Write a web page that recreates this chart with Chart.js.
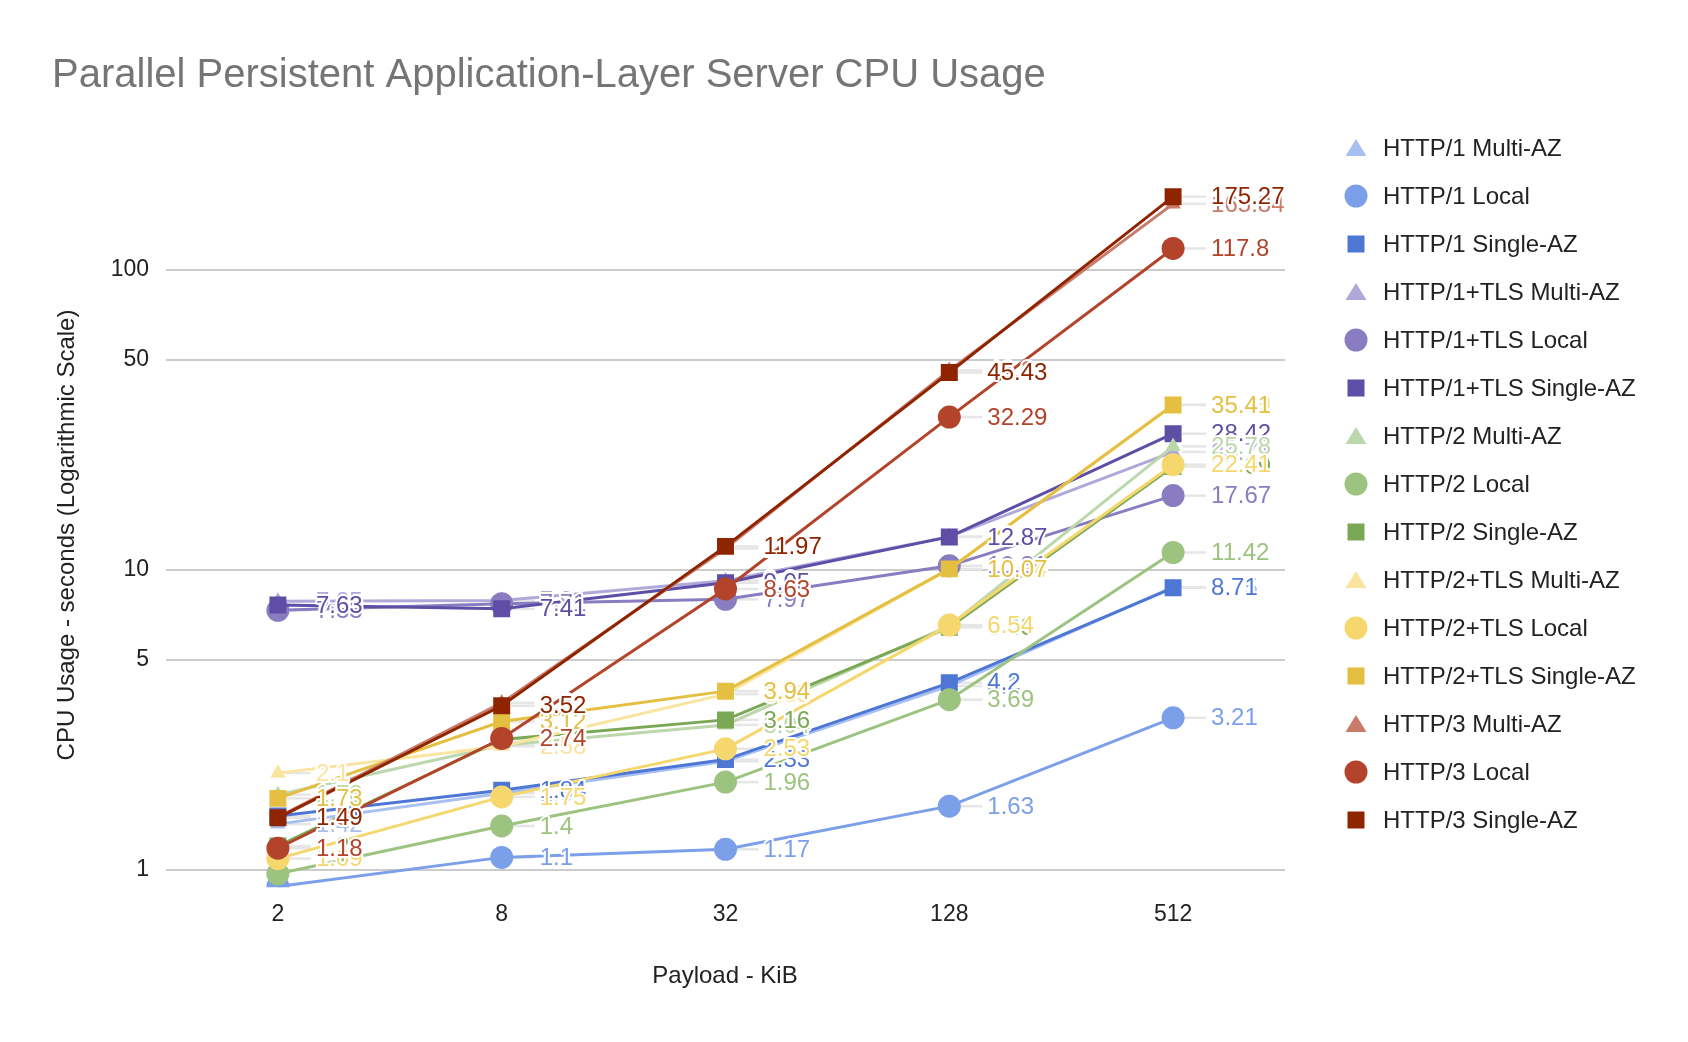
<!DOCTYPE html>
<html>
<head>
<meta charset="utf-8">
<script src="https://cdn.jsdelivr.net/npm/chart.js@4.4.1/dist/chart.umd.min.js"></script>
<style>
html,body{margin:0;padding:0;background:#fff;}
#wrap{width:1688px;height:1042px;position:relative;}
</style>
</head>
<body>
<div id="wrap"><canvas id="c" width="1688" height="1042"></canvas></div>
<script>
const categories = ['2', '8', '32', '128', '512'];
const yTickValues = [1, 5, 10, 50, 100];

const seriesNames = [
  'HTTP/1 Multi-AZ', 'HTTP/1 Local', 'HTTP/1 Single-AZ',
  'HTTP/1+TLS Multi-AZ', 'HTTP/1+TLS Local', 'HTTP/1+TLS Single-AZ',
  'HTTP/2 Multi-AZ', 'HTTP/2 Local', 'HTTP/2 Single-AZ',
  'HTTP/2+TLS Multi-AZ', 'HTTP/2+TLS Local', 'HTTP/2+TLS Single-AZ',
  'HTTP/3 Multi-AZ', 'HTTP/3 Local', 'HTTP/3 Single-AZ'
];

const http1Multi      = [1.42, 1.8, 2.3, 4.1, 8.75];
const http1Local      = [0.88, 1.1, 1.17, 1.63, 3.21];
const http1Single     = [1.51, 1.84, 2.33, 4.2, 8.71];
const http1TlsMulti   = [7.85, 7.9, 9.2, 12.9, 24.71];
const http1TlsLocal   = [7.33, 7.71, 7.97, 10.31, 17.67];
const http1TlsSingle  = [7.63, 7.41, 9.05, 12.87, 28.42];
const http2Multi      = [1.78, 2.6, 3.04, 6.5, 25.78];
const http2Local      = [0.97, 1.4, 1.96, 3.69, 11.42];
const http2Single     = [1.2, 2.72, 3.16, 6.43, 22.09];
const http2TlsMulti   = [2.1, 2.58, 3.85, 10.04, 35.49];
const http2TlsLocal   = [1.09, 1.75, 2.53, 6.54, 22.41];
const http2TlsSingle  = [1.73, 3.12, 3.94, 10.07, 35.41];
const http3Multi      = [1.5, 3.6, 11.77, 46.2, 165.84];
const http3Local      = [1.18, 2.74, 8.63, 32.29, 117.8];
const http3Single     = [1.49, 3.52, 11.97, 45.43, 175.27];

const seriesValues = [
  http1Multi, http1Local, http1Single,
  http1TlsMulti, http1TlsLocal, http1TlsSingle,
  http2Multi, http2Local, http2Single,
  http2TlsMulti, http2TlsLocal, http2TlsSingle,
  http3Multi, http3Local, http3Single
];

const seriesColors = [
  '#a8bff2', '#7b9fe8', '#4e77d5',
  '#b1a8da', '#8a7cc1', '#5f4ea6',
  '#bcd7ac', '#9dc380', '#7aa855',
  '#f9e4a0', '#f5d76d', '#e4bf42',
  '#c97a69', '#b3442b', '#8f2401'
];
const seriesShapes = ['triangle', 'circle', 'rect'];

const FONT = '"Liberation Sans", Arial, sans-serif';
const Y_MIN = 0.875, Y_MAX = 250;

const datasets = seriesNames.map((name, i) => {
  const shape = seriesShapes[i % 3];
  const r = shape === 'triangle' ? 9 : (shape === 'circle' ? 11.5 : 12);
  return {
    label: name,
    data: seriesValues[i],
    borderColor: seriesColors[i],
    backgroundColor: seriesColors[i],
    pointBackgroundColor: seriesColors[i],
    pointBorderColor: seriesColors[i],
    pointBorderWidth: 0,
    borderWidth: 3,
    pointStyle: shape,
    pointRadius: r,
    pointHoverRadius: r,
    tension: 0,
    order: seriesNames.length - i,
    clip: { left: false, right: false, top: false, bottom: 0 }
  };
});

const leaderPlugin = {
  id: 'leaders',
  beforeDatasetsDraw(chart) {
    const ctx = chart.ctx;
    ctx.save();
    ctx.strokeStyle = '#e6e6e6';
    ctx.lineWidth = 2.5;
    chart.data.datasets.forEach((ds, i) => {
      const meta = chart.getDatasetMeta(i);
      meta.data.forEach((pt, j) => {
        if (ds.data[j] < 1) return;
        ctx.beginPath();
        ctx.moveTo(pt.x + 9, pt.y);
        ctx.lineTo(pt.x + 33, pt.y);
        ctx.stroke();
      });
    });
    ctx.restore();
  },
  afterDatasetsDraw(chart) {
    const ctx = chart.ctx;
    ctx.save();
    ctx.font = '24px ' + FONT;
    ctx.textAlign = 'left';
    ctx.textBaseline = 'middle';
    ctx.lineJoin = 'round';
    chart.data.datasets.forEach((ds, i) => {
      const meta = chart.getDatasetMeta(i);
      meta.data.forEach((pt, j) => {
        if (ds.data[j] < 1) return;
        const txt = String(ds.data[j]);
        ctx.strokeStyle = '#ffffff';
        ctx.lineWidth = 4;
        ctx.strokeText(txt, pt.x + 38, pt.y + 1);
        ctx.fillStyle = ds.borderColor;
        ctx.fillText(txt, pt.x + 38, pt.y + 1);
      });
    });
    ctx.restore();
  }
};

const decorPlugin = {
  id: 'decor',
  afterDraw(chart) {
    const ctx = chart.ctx;
    ctx.save();
    ctx.fillStyle = '#757575';
    ctx.font = '40px ' + FONT;
    ctx.textAlign = 'left';
    ctx.textBaseline = 'middle';
    ctx.fillText('Parallel Persistent Application-Layer Server CPU Usage', 52, 76);
    ctx.fillStyle = '#222222';
    ctx.font = '24px ' + FONT;
    ctx.textAlign = 'center';
    ctx.fillText('Payload - KiB', 725, 976);
    ctx.save();
    ctx.translate(67, 535);
    ctx.rotate(-Math.PI / 2);
    ctx.fillText('CPU Usage - seconds (Logarithmic Scale)', 0, 0);
    ctx.restore();
    const lx = 1356, tx = 1383, ly0 = 148, step = 48;
    chart.data.datasets.forEach((ds, i) => {
      const y = ly0 + i * step;
      ctx.fillStyle = ds.borderColor;
      const shape = ds.pointStyle;
      if (shape === 'triangle') {
        ctx.beginPath();
        ctx.moveTo(lx, y - 9);
        ctx.lineTo(lx + 10.5, y + 8);
        ctx.lineTo(lx - 10.5, y + 8);
        ctx.closePath();
        ctx.fill();
      } else if (shape === 'circle') {
        ctx.beginPath();
        ctx.arc(lx, y, 11.5, 0, Math.PI * 2);
        ctx.fill();
      } else {
        ctx.fillRect(lx - 8.5, y - 8.5, 17, 17);
      }
      ctx.fillStyle = '#222222';
      ctx.font = '24px ' + FONT;
      ctx.textAlign = 'left';
      ctx.textBaseline = 'middle';
      ctx.fillText(ds.label, tx, y + 1);
    });
    ctx.restore();
  }
};

new Chart(document.getElementById('c'), {
  type: 'line',
  data: { labels: categories, datasets: datasets },
  options: {
    responsive: false,
    animation: false,
    events: [],
    layout: { padding: { left: 0, right: 403, top: 150.4, bottom: 0 } },
    plugins: { legend: { display: false }, tooltip: { enabled: false }, title: { display: false } },
    scales: {
      x: {
        type: 'category',
        offset: true,
        grid: { display: false, drawTicks: false },
        border: { display: false },
        ticks: { color: '#222222', font: { family: FONT, size: 23 }, padding: 13.5, maxRotation: 0 },
        afterFit(s) { s.height = 1042 - 887.2; }
      },
      y: {
        type: 'logarithmic',
        min: Y_MIN,
        max: Y_MAX,
        grid: { color: '#cccccc', lineWidth: 2, drawTicks: false },
        border: { display: false },
        afterBuildTicks(s) { s.ticks = yTickValues.map(v => ({ value: v })); },
        ticks: {
          color: '#222222',
          font: { family: FONT, size: 23 },
          padding: 17,
          callback: v => String(v)
        },
        afterFit(s) { s.width = 166; }
      }
    }
  },
  plugins: [leaderPlugin, decorPlugin]
});
</script>
</body>
</html>
